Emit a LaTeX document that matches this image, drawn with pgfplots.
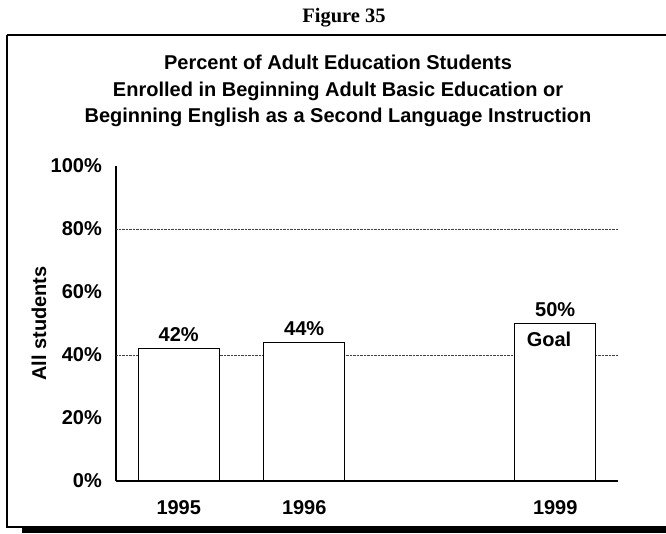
\documentclass[border=0pt]{standalone}
\usepackage{pgfplots}
\pgfplotsset{compat=1.18}
\usepackage{fontspec}
\setmainfont{Liberation Sans}
\newfontfamily\serifb{Liberation Serif}
\newcommand{\sfb}{\bfseries\fontsize{20}{23}\selectfont}
\begin{document}
\begin{tikzpicture}[x=1pt,y=1pt]
\useasboundingbox (0,0) rectangle (666,533);
\fill[white] (0,0) rectangle (666,533);
% frame
\draw[line width=1.8pt] (7,498) -- (666,498);
\draw[line width=1.4pt] (7,498) -- (7,6) -- (666,6);
\fill[black] (22,0) rectangle (666,4.8);
% headings
\node[anchor=base, inner sep=0pt, font=\serifb\bfseries\fontsize{20.5}{24}\selectfont] at (344,510) {Figure 35};
\node[anchor=base, inner sep=0pt, font=\sfb] at (338,463) {Percent of Adult Education Students};
\node[anchor=base, inner sep=0pt, font=\sfb] at (338,436) {Enrolled in Beginning Adult Basic Education or};
\node[anchor=base, inner sep=0pt, font=\sfb] at (338,410) {Beginning English as a Second Language Instruction};
\begin{axis}[
  at={(116pt,52pt)}, anchor=south west,
  width=502pt, height=315pt, scale only axis,
  xmin=-0.5, xmax=3.5, ymin=0, ymax=100,
  axis x line=bottom, axis y line=left,
  axis line style={-, line width=1.3pt, black},
  xtick={0,1,3}, xticklabels={1995,1996,1999},
  ytick={0,20,...,100}, yticklabels={0\%,20\%,40\%,60\%,80\%,100\%},
  major tick length=0pt,
  tick label style={font=\sfb},
  yticklabel style={anchor=east, inner sep=0pt, xshift=-14pt},
  xticklabel style={anchor=north, inner sep=0pt, yshift=-19pt},
  extra y ticks={40,80}, extra y tick labels={},
  extra y tick style={grid=major, major grid style={densely dotted, line width=0.8pt, black!75}},
  ylabel={All students},
  ylabel style={font=\sfb, at={(axis description cs:-0.1534,0.5)}, anchor=center},
  ybar, bar width=81pt,
  nodes near coords, point meta=explicit symbolic,
  nodes near coords style={font=\sfb, anchor=south, inner sep=0pt, yshift=6pt, black},
]
\addplot[fill=white, draw=black, line width=1.3pt] coordinates {(0,42)[42\%] (1,44)[44\%] (3,50)[50\%]};
\node[anchor=north, inner sep=0pt, font=\sfb, yshift=-8.5pt] at (axis cs:2.95,50) {Goal};
\end{axis}
\end{tikzpicture}
\end{document}
